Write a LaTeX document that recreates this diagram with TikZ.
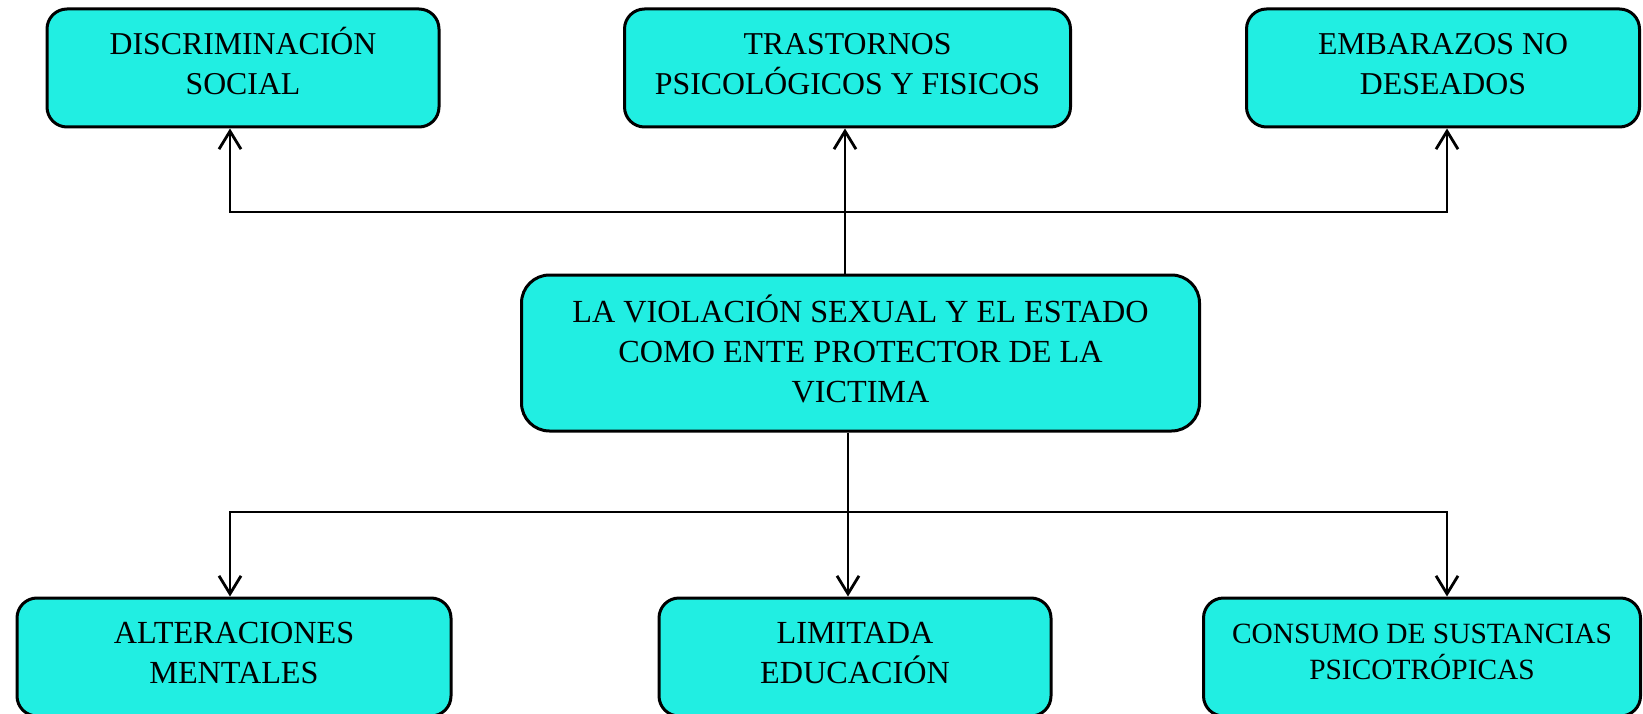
\documentclass[tikz,border=0pt]{standalone}
\usepackage{fontspec}
\setmainfont{Liberation Serif}
\usetikzlibrary{arrows.meta}
\definecolor{boxcyan}{RGB}{33,238,226}
\tikzset{
  box/.style={draw=black, line width=3pt, fill=boxcyan, rounded corners=20pt,
    align=center, inner sep=0pt, font=\fontsize{31.8}{40}\selectfont,
    text height=61pt, text depth=7pt, minimum height=118pt},
  conn/.style={line width=2.8pt, arrows={Straight Barb[length=18pt,width=22pt]-Straight Barb[length=18pt,width=22pt]}},
  connup/.style={line width=2.8pt, -{Straight Barb[length=18pt,width=22pt]}},
}
\begin{document}
\begin{tikzpicture}[x=1pt,y=-1pt]
\useasboundingbox (0,0) rectangle (1643,714);
\clip (0,0) rectangle (1643,714);
\node[box, minimum width=392pt] (tl) at (243,68) {DISCRIMINACIÓN\\SOCIAL};
\node[box, minimum width=446pt] (tm) at (847.5,68) {TRASTORNOS\\PSICOLÓGICOS Y FISICOS};
\node[box, minimum width=393pt] (tr) at (1443,68) {EMBARAZOS NO\\DESEADOS};
\node[box, minimum width=678pt, minimum height=156pt, rounded corners=28pt,
      font=\fontsize{32.2}{40}\selectfont,
      text height=101pt, text depth=3pt] (c) at (860.5,353)
      {LA VIOLACIÓN SEXUAL Y EL ESTADO\\COMO ENTE PROTECTOR DE LA\\VICTIMA};
\node[box, minimum width=434pt, font=\fontsize{32.2}{40}\selectfont,
      text height=60pt, text depth=8pt] (bl) at (234,657) {ALTERACIONES\\MENTALES};
\node[box, minimum width=392pt, font=\fontsize{32.2}{40}\selectfont,
      text height=60pt, text depth=8pt] (bm) at (855,657) {LIMITADA\\EDUCACIÓN};
\node[box, minimum width=437pt, font=\fontsize{29.4}{36}\selectfont,
      text height=56pt, text depth=12pt] (br) at (1422,657) {CONSUMO DE SUSTANCIAS\\PSICOTRÓPICAS};
\coordinate (jtl) at (230,212);
\coordinate (jtm) at (845,212);
\coordinate (jtr) at (1447,212);
\coordinate (jbl) at (230,512);
\coordinate (jbm) at (848,512);
\coordinate (jbr) at (1447,512);
\draw[conn] (jtl |- tl.south) -- (jtl) -- (jtr) -- (jtr |- tr.south);
\draw[connup] (c.north -| jtm) -- (tm.south -| jtm);
\draw[conn] (jbl |- bl.north) -- (jbl) -- (jbr) -- (jbr |- br.north);
\draw[connup] (c.south -| jbm) -- (bm.north -| jbm);
\end{tikzpicture}
\end{document}
